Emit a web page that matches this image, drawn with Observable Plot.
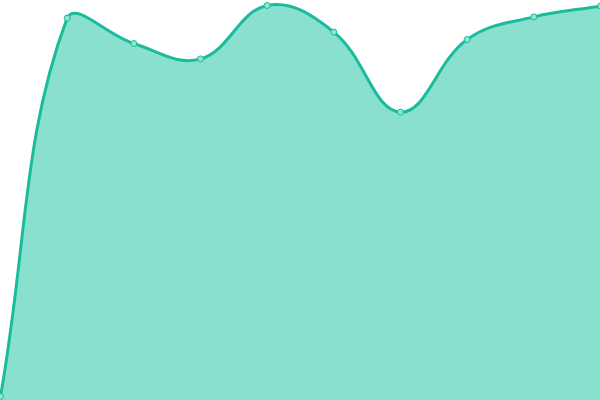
<!DOCTYPE html>
<html>
<head>
<meta charset="utf-8">
<script src="https://cdn.jsdelivr.net/npm/d3@7"></script>
<script src="https://cdn.jsdelivr.net/npm/@observablehq/plot@0.6"></script>
<style>
html,body{margin:0;padding:0;background:#fff;overflow:hidden;}
svg{display:block;}
</style>
</head>
<body>
<div id="chart"></div>
<script>
const xs = [0, 1, 2, 3, 4, 5, 6, 7, 8, 9];
const values = [1, 95.6, 89.25, 85.4, 98.75, 92.1, 72.1, 90.25, 95.9, 98.6];
const data = xs.map((x, i) => ({x, y: values[i]}));

const W = 600, H = 400;
// Distance-weighted bezier spline curve (tension 0.4)
function splineCurve(context) {
  const t = 0.4;
  let pts = [], line;
  const clampX = v => Math.max(0, Math.min(W, v));
  const clampY = v => Math.max(0, Math.min(H, v));
  return {
    areaStart() { line = 0; },
    areaEnd() { line = NaN; },
    lineStart() { pts = []; },
    point(x, y) { pts.push([+x, +y]); },
    lineEnd() {
      const n = pts.length;
      if (n) {
        const ctrl = pts.map((c, i) => {
          const p = pts[i - 1] || c, nx = pts[i + 1] || c;
          const d01 = Math.hypot(c[0] - p[0], c[1] - p[1]);
          const d12 = Math.hypot(nx[0] - c[0], nx[1] - c[1]);
          let s01 = d01 / (d01 + d12), s12 = d12 / (d01 + d12);
          if (isNaN(s01)) s01 = 0;
          if (isNaN(s12)) s12 = 0;
          const fa = t * s01, fb = t * s12;
          return {
            prev: [clampX(c[0] - fa * (nx[0] - p[0])), clampY(c[1] - fa * (nx[1] - p[1]))],
            next: [clampX(c[0] + fb * (nx[0] - p[0])), clampY(c[1] + fb * (nx[1] - p[1]))]
          };
        });
        if (line) context.lineTo(pts[0][0], pts[0][1]);
        else context.moveTo(pts[0][0], pts[0][1]);
        for (let i = 1; i < n; i++) {
          const a = ctrl[i - 1].next, b = ctrl[i].prev;
          context.bezierCurveTo(a[0], a[1], b[0], b[1], pts[i][0], pts[i][1]);
        }
        if (line || (line !== 0 && n === 1)) context.closePath();
      }
      line = 1 - line;
    }
  };
}

const chart = Plot.plot({
  width: W,
  height: H,
  margin: 0,
  x: {domain: [0, 9], range: [0, W], axis: null},
  y: {domain: [0, 100], range: [H, 0], axis: null},
  marks: [
    Plot.areaY(data, {x: "x", y: "y", curve: splineCurve, fill: "#89e0cf"}),
    Plot.lineY(data, {x: "x", y: "y", curve: splineCurve, stroke: "#1abc9c", strokeWidth: 3}),
    Plot.dot(data, {x: "x", y: "y", r: 3, fill: "#8fe3d2", stroke: "#1abc9c", strokeWidth: 1})
  ]
});
document.getElementById("chart").appendChild(chart);
</script>
</body>
</html>
